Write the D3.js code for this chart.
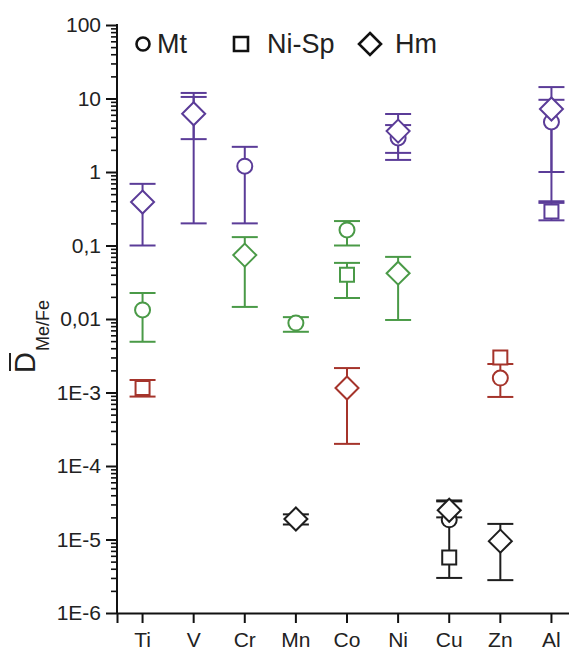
<!DOCTYPE html>
<html>
<head>
<meta charset="utf-8">
<script src="https://cdn.jsdelivr.net/npm/d3@7"></script>
<style>
  body { margin: 0; background: #fff; }
  text { font-family: "Liberation Sans", Arial, sans-serif; }
</style>
</head>
<body>
<div id="chart"></div>
<script>
// categories and tick labels
var elements = ["Ti", "V", "Cr", "Mn", "Co", "Ni", "Cu", "Zn", "Al"];
var yTickValues = [1e2, 1e1, 1, 1e-1, 1e-2, 1e-3, 1e-4, 1e-5, 1e-6];
var yTickLabels = ["100", "10", "1", "0,1", "0,01", "1E-3", "1E-4", "1E-5", "1E-6"];
var phases = ["Mt", "Ni-Sp", "Hm"];

// one entry per plotted point
var pointElement = ["Ti", "Ti", "Ti", "V", "V", "Cr", "Cr", "Mn", "Mn", "Co", "Co", "Co", "Ni", "Ni", "Ni", "Cu", "Cu", "Cu", "Zn", "Zn", "Zn", "Al", "Al", "Al"];
var pointPhase = ["Hm", "Mt", "Ni-Sp", "Mt", "Hm", "Mt", "Hm", "Mt", "Hm", "Mt", "Ni-Sp", "Hm", "Mt", "Hm", "Hm", "Mt", "Hm", "Ni-Sp", "Ni-Sp", "Mt", "Hm", "Mt", "Hm", "Ni-Sp"];
var pointValue = [0.39, 0.0133, 0.00115, 6.3, 6.2, 1.2, 0.074, 0.0088, 1.9e-5, 0.163, 0.04, 0.00115, 2.9, 3.6, 0.042, 1.85e-5, 2.5e-5, 5.7e-6, 0.003, 0.00157, 9.5e-6, 4.8, 7.2, 0.29];
var pointLow = [0.1, 0.0049, 0.00088, 0.2, 2.8, 0.2, 0.0146, 0.0067, 1.6e-5, 0.1, 0.0193, 0.0002, 1.46, 1.82, 0.0097, 3e-6, 2e-5, null, null, 0.00087, 2.8e-6, 1.0, 0.4, 0.22];
var pointHigh = [0.69, 0.0226, 0.00148, 10.5, 11.9, 2.2, 0.13, 0.0106, 2.2e-5, 0.215, 0.058, 0.00215, 6.15, 4.35, 0.07, 3.3e-5, 3.4e-5, null, null, 0.00244, 1.63e-5, 9.6, 14.3, 0.38];
var pointGroup = ["p", "g", "r", "p", "p", "p", "g", "g", "k", "g", "g", "r", "p", "p", "g", "k", "k", "k", "r", "r", "k", "p", "p", "p"];

var groupColor = { p: "#5b3c98", g: "#4a9a47", r: "#a5342b", k: "#1e1e1e" };

var width = 569, height = 657;
var margin = { left: 117, top: 25, bottom: 44 };

var points = pointValue.map(function(v, i) {
    return { el: pointElement[i], phase: pointPhase[i], v: v, lo: pointLow[i], hi: pointHigh[i], c: groupColor[pointGroup[i]] };
});

var svg = d3.select("#chart").append("svg")
    .attr("width", width)
    .attr("height", height);

var x = d3.scaleBand()
    .domain(elements)
    .range([margin.left, 577]);

var y = d3.scaleLog()
    .domain([1e-6, 100])
    .range([height - margin.bottom, margin.top]);

// minor ticks
var minor = y.ticks().filter(function(d) {
    return yTickValues.indexOf(d) < 0;
});
svg.append("g")
    .attr("transform", "translate(" + margin.left + ",0)")
    .call(d3.axisLeft(y).tickValues(minor).tickSize(6).tickFormat(""))
    .call(function(g) { g.select(".domain").remove(); })
    .selectAll("line").attr("stroke", "#111").attr("stroke-width", 1.6);

var yAxis = svg.append("g")
    .attr("transform", "translate(" + margin.left + ",0)")
    .call(d3.axisLeft(y).tickValues(yTickValues).tickSize(11).tickPadding(5)
        .tickFormat(function(d, i) { return yTickLabels[i]; }));
yAxis.select(".domain").attr("stroke", "#111").attr("stroke-width", 2).attr("d", "M0," + (margin.top - 1) + "V" + y(1e-6));
yAxis.selectAll("line").attr("stroke", "#111").attr("stroke-width", 2);
yAxis.selectAll("text").attr("font-size", 21).attr("fill", "#222").attr("font-family", "Liberation Sans, Arial, sans-serif");

var xAxis = svg.append("g")
    .attr("transform", "translate(0," + y(1e-6) + ")")
    .call(d3.axisBottom(x).tickSizeOuter(0).tickSize(10).tickPadding(9));
xAxis.select(".domain").attr("stroke", "#111").attr("stroke-width", 2);
xAxis.selectAll("line").attr("stroke", "#111").attr("stroke-width", 2);
xAxis.selectAll("text").attr("font-size", 21).attr("fill", "#222").attr("font-family", "Liberation Sans, Arial, sans-serif");

// y label
var yl = svg.append("g").attr("transform", "translate(35,373) rotate(-90)");
yl.append("text")
    .attr("font-size", 29)
    .attr("fill", "#222")
    .text("D")
    .append("tspan")
    .attr("font-size", 18)
    .attr("dy", 14)
    .attr("dx", 1)
    .text("Me/Fe");
yl.append("line")
    .attr("x1", 2).attr("x2", 20)
    .attr("y1", -25).attr("y2", -25)
    .attr("stroke", "#222").attr("stroke-width", 2);

// error bars
var cap = 13;
var eb = svg.append("g").selectAll("g")
    .data(points.filter(function(d) { return d.lo != null; }))
    .enter().append("g")
    .attr("stroke", function(d) { return d.c; })
    .attr("stroke-width", 2);
eb.append("line")
    .attr("x1", function(d) { return x(d.el) + x.bandwidth() / 2; })
    .attr("x2", function(d) { return x(d.el) + x.bandwidth() / 2; })
    .attr("y1", function(d) { return y(d.lo); })
    .attr("y2", function(d) { return y(d.hi); });
["lo", "hi"].forEach(function(k) {
    eb.append("line")
        .attr("x1", function(d) { return x(d.el) + x.bandwidth() / 2 - cap; })
        .attr("x2", function(d) { return x(d.el) + x.bandwidth() / 2 + cap; })
        .attr("y1", function(d) { return y(d[k]); })
        .attr("y2", function(d) { return y(d[k]); });
});

// markers
function symbolPath(phase) {
    if (phase === "Mt") return d3.symbol().type(d3.symbolCircle).size(Math.PI * 7.5 * 7.5)();
    if (phase === "Ni-Sp") return d3.symbol().type(d3.symbolSquare).size(14 * 14)();
    return "M0,-11.5L11.5,0L0,11.5L-11.5,0Z";
}
var order = { "Mt": 0, "Ni-Sp": 1, "Hm": 2 };
svg.append("g").selectAll("path")
    .data(points.slice().sort(function(a, b) { return order[a.phase] - order[b.phase]; }))
    .enter().append("path")
    .attr("d", function(d) { return symbolPath(d.phase); })
    .attr("transform", function(d) {
        return "translate(" + (x(d.el) + x.bandwidth() / 2) + "," + y(d.v) + ")";
    })
    .attr("fill", "#fff")
    .attr("stroke", function(d) { return d.c; })
    .attr("stroke-width", 2);

// legend
var legX = [143, 241, 370];
var legTextX = [157, 267, 395];
var leg = svg.append("g").selectAll("g")
    .data(phases)
    .enter().append("g");
leg.append("path")
    .attr("transform", function(d, i) { return "translate(" + legX[i] + ",44)"; })
    .attr("d", function(d) {
        if (d === "Mt") return d3.symbol().type(d3.symbolCircle).size(Math.PI * 6.5 * 6.5)();
        if (d === "Ni-Sp") return d3.symbol().type(d3.symbolSquare).size(14 * 14)();
        return "M0,-11L11,0L0,11L-11,0Z";
    })
    .attr("fill", "none")
    .attr("stroke", "#111")
    .attr("stroke-width", 2.6);
leg.append("text")
    .attr("x", function(d, i) { return legTextX[i]; })
    .attr("y", 53)
    .attr("font-size", 27)
    .attr("fill", "#222")
    .text(function(d) { return d; });
</script>
</body>
</html>
